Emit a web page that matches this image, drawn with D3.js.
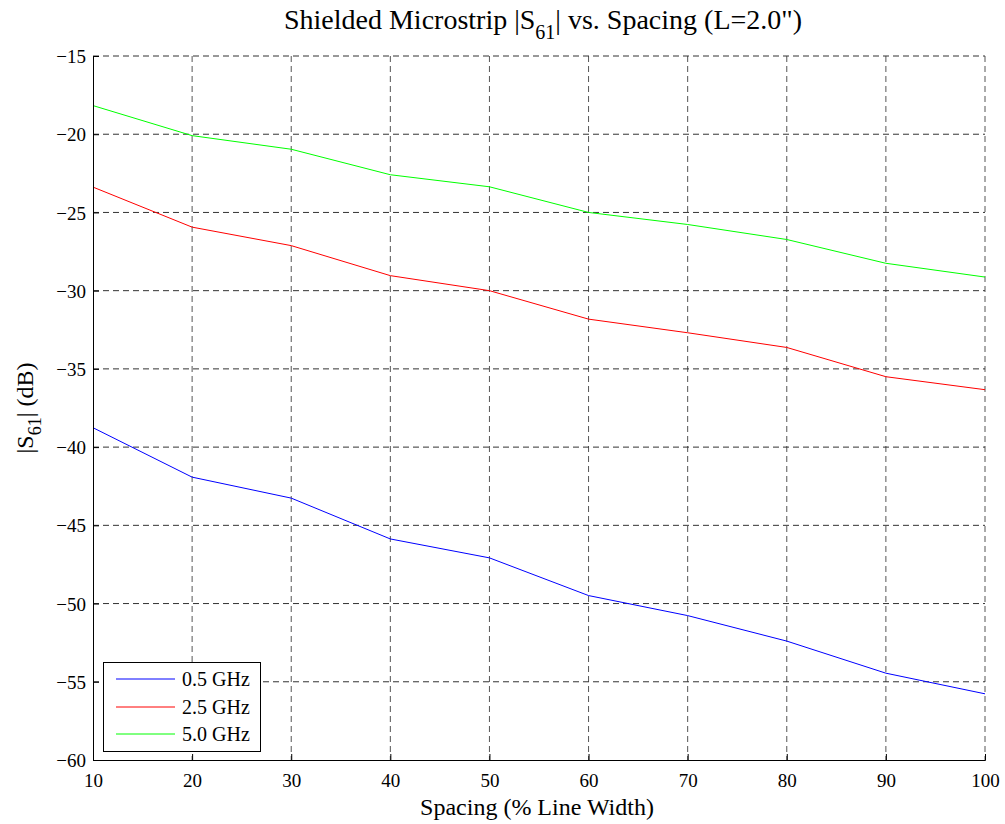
<!DOCTYPE html>
<html><head><meta charset="utf-8">
<script src="https://cdn.jsdelivr.net/npm/d3@7"></script>
<style>
html,body{margin:0;padding:0;background:#fff;}
text{font-family:"Liberation Serif","Times New Roman",serif;fill:#000;}
</style></head>
<body>
<svg id="chart" width="1005" height="824"></svg>
<script>
const spacing = [10,20,30,40,50,60,70,80,90,100];
const s61_05GHz = [-38.76,-41.92,-43.26,-45.87,-47.08,-49.49,-50.77,-52.4,-54.45,-55.77];
const s61_25GHz = [-23.38,-25.94,-27.12,-29.04,-30.0,-31.82,-32.69,-33.63,-35.5,-36.33];
const s61_50GHz = [-18.17,-20.09,-20.96,-22.59,-23.36,-25.0,-25.77,-26.73,-28.25,-29.13];
const seriesNames = ["0.5 GHz","2.5 GHz","5.0 GHz"];
const seriesColors = ["#0000ff","#ff0000","#00ff00"];
const xTicks = [10,20,30,40,50,60,70,80,90,100];
const yTicks = [-60,-55,-50,-45,-40,-35,-30,-25,-20,-15];

const series = [s61_05GHz, s61_25GHz, s61_50GHz];
const svg = d3.select("#chart");
const L = 93, R = 985, T = 56, B = 760;
const x = d3.scaleLinear().domain([10,100]).range([L,R]);
const y = d3.scaleLinear().domain([-60,-15]).range([B,T]);

// grid
const g = svg.append("g");
g.selectAll("line.vg").data(xTicks.slice(1)).enter().append("line")
  .attr("x1",d=>x(d)).attr("x2",d=>x(d)).attr("y1",T).attr("y2",B)
  .attr("stroke","#555").attr("stroke-width",1).attr("stroke-dasharray","6,4");
g.selectAll("line.hg").data(yTicks.slice(1)).enter().append("line")
  .attr("x1",L).attr("x2",R).attr("y1",d=>y(d)).attr("y2",d=>y(d))
  .attr("stroke","#333").attr("stroke-width",1).attr("stroke-dasharray","6,4");

// lines
const line = d3.line().x((d,i)=>x(spacing[i])).y(d=>y(d));
series.forEach((s,k)=>{
  svg.append("path").datum(s).attr("d",line).attr("fill","none")
    .attr("stroke",seriesColors[k]).attr("stroke-width",1);
});

// axes
const xAxis = d3.axisBottom(x).tickValues(xTicks).tickSize(-6).tickFormat(d3.format("d"));
const yAxis = d3.axisLeft(y).tickValues(yTicks).tickSize(-6).tickPadding(7).tickFormat(d3.format("d"));
const gx = svg.append("g").attr("transform",`translate(0,${B})`).call(xAxis);
const gy = svg.append("g").attr("transform",`translate(${L},0)`).call(yAxis);
[gx,gy].forEach(a=>{
  a.select(".domain").attr("stroke","#000").attr("stroke-width",1);
  a.selectAll(".tick line").attr("stroke","#000");
  a.selectAll(".tick text").style("font-family","'Liberation Serif',serif").style("font-size","19px").attr("fill","#000");
});
gx.selectAll(".tick text").attr("y",27).attr("dy",0);
gy.selectAll(".tick text").attr("dy","0.35em");

// title
const title = svg.append("text").attr("x",543).attr("y",29).attr("text-anchor","middle").style("font-size","28px");
title.append("tspan").text("Shielded Microstrip |S");
title.append("tspan").attr("dy",10).style("font-size","20px").text("61");
title.append("tspan").attr("dy",-10).text("| vs. Spacing (L=2.0\")");

// x label
svg.append("text").attr("x",537).attr("y",815).attr("text-anchor","middle").style("font-size","24px")
  .text("Spacing (% Line Width)");

// y label
const yl = svg.append("text").attr("transform","translate(33,408) rotate(-90)").attr("text-anchor","middle").style("font-size","24px");
yl.append("tspan").text("|S");
yl.append("tspan").attr("dy",8).style("font-size","18px").text("61");
yl.append("tspan").attr("dy",-8).text("| (dB)");

// legend
const lg = svg.append("g");
lg.append("rect").attr("x",103.5).attr("y",662.5).attr("width",157).attr("height",89)
  .attr("fill","#fff").attr("stroke","#000").attr("stroke-width",1);
const rowsY = [679,707,734];
seriesNames.forEach((n,k)=>{
  lg.append("line").attr("x1",116).attr("x2",175).attr("y1",rowsY[k]).attr("y2",rowsY[k])
    .attr("stroke",seriesColors[k]).attr("stroke-width",1);
  lg.append("text").attr("x",182).attr("y",rowsY[k]).attr("dy","0.35em").style("font-size","20px").text(n);
});
</script>
</body></html>
